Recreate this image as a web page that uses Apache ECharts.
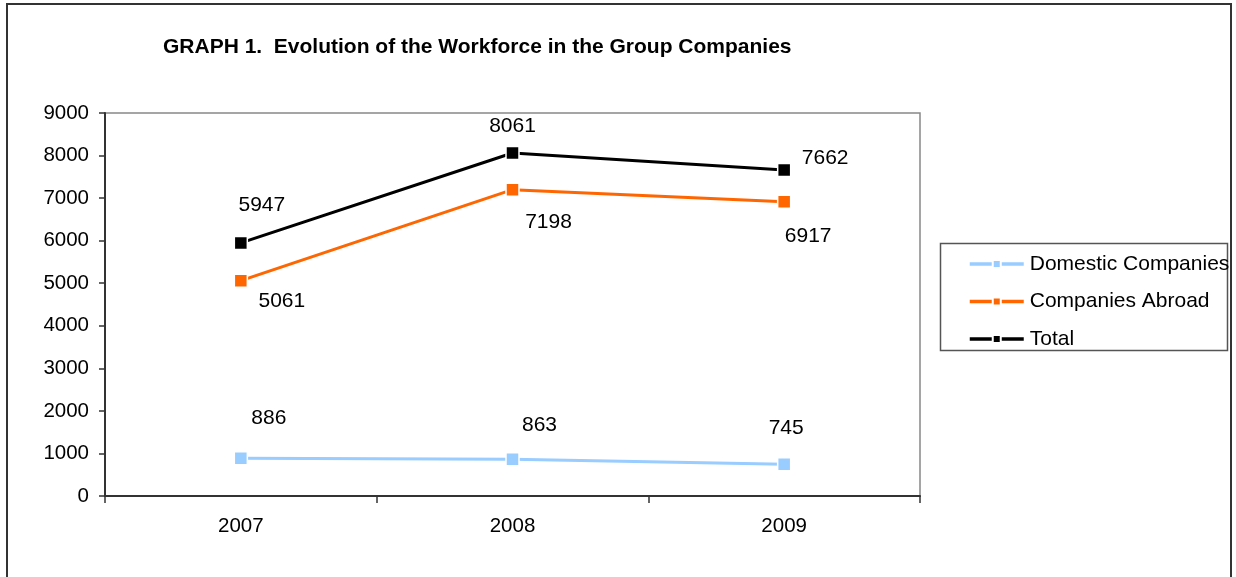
<!DOCTYPE html>
<html>
<head>
<meta charset="utf-8">
<script src="https://cdn.jsdelivr.net/npm/echarts@6/dist/echarts.min.js"></script>
<style>
  html, body { margin: 0; padding: 0; background: #fff; }
  #chart { width: 1236px; height: 577px; }
</style>
</head>
<body>
<div id="chart"></div>
<script>
// Workforce by year
const years = ['2007', '2008', '2009'];
const domestic = [886, 863, 745];
const abroad = [5061, 7198, 6917];
const total = [5947, 8061, 7662];
const seriesNames = ['Domestic Companies', 'Companies Abroad', 'Total'];

// Value-label placement relative to each point (label centre, px)
const labelOffsets = {
  domestic: [[28, -40], [27, -34], [2, -36]],
  abroad: [[41, 21], [36, 33], [24, 35]],
  total: [[21, -38], [0, -27], [41, -12]]
};

const FONT = 'Liberation Sans, Arial, sans-serif';

function withLabels(values, offsets) {
  return values.map((v, i) => ({
    value: v,
    label: { offset: offsets[i] }
  }));
}

function lineSeries(name, values, offsets, color) {
  return {
    name: name,
    type: 'line',
    data: withLabels(values, offsets),
    symbol: 'rect',
    symbolSize: 13,
    showAllSymbol: true,
    lineStyle: { color: color, width: 3 },
    itemStyle: { color: color, borderColor: '#fff', borderWidth: 1.5 },
    label: {
      show: true,
      position: 'inside',
      color: '#000',
      fontFamily: FONT,
      fontSize: 21
    },
    emphasis: { disabled: true },
    animation: false,
    z: 3
  };
}

const chart = echarts.init(document.getElementById('chart'), null, { renderer: 'canvas' });

chart.setOption({
  backgroundColor: '#fff',
  animation: false,
  title: {
    text: 'GRAPH 1.  Evolution of the Workforce in the Group Companies',
    left: 163,
    top: 37,
    padding: 0,
    textStyle: { fontFamily: FONT, fontSize: 21, fontWeight: 'bold', color: '#000' }
  },
  graphic: [
    {
      type: 'rect',
      shape: { x: 7, y: 4, width: 1224, height: 620 },
      style: { fill: 'none', stroke: '#333', lineWidth: 2 },
      silent: true, z: 0
    },
    {
      type: 'rect',
      shape: { x: 940.5, y: 243.5, width: 287, height: 107 },
      style: { fill: 'none', stroke: '#555', lineWidth: 1.5 },
      silent: true, z: 0
    }
  ],
  legend: {
    data: seriesNames,
    orient: 'vertical',
    left: 968,
    top: 253,
    itemWidth: 54,
    itemHeight: 10,
    itemGap: 15.5,
    padding: 0,
    selectedMode: false,
    lineStyle: { width: 3.5 },
    textStyle: { fontFamily: FONT, fontSize: 21, color: '#000', lineHeight: 22, padding: [0, 0, 0, 1] }
  },
  grid: {
    left: 105,
    right: 316,
    top: 113,
    bottom: 81,
    show: true,
    borderColor: '#888',
    borderWidth: 1.5,
    backgroundColor: '#fff'
  },
  xAxis: {
    type: 'category',
    data: years,
    boundaryGap: true,
    axisLine: { lineStyle: { color: '#333', width: 2 } },
    axisTick: { show: true, inside: false, length: 7, interval: 0, lineStyle: { color: '#333', width: 1.5 } },
    axisLabel: { color: '#000', fontFamily: FONT, fontSize: 20.5, margin: 20 },
    splitLine: { show: false }
  },
  yAxis: {
    type: 'value',
    min: 0,
    max: 9000,
    interval: 1000,
    axisLine: { show: true, lineStyle: { color: '#333', width: 2 } },
    axisTick: { show: true, inside: false, length: 6, lineStyle: { color: '#333', width: 1.5 } },
    axisLabel: {
      color: '#000', fontFamily: FONT, fontSize: 20.5, margin: 16,
      formatter: (v) => String(v)
    },
    splitLine: { show: false }
  },
  series: [
    lineSeries(seriesNames[0], domestic, labelOffsets.domestic, '#99CCFF'),
    lineSeries(seriesNames[1], abroad, labelOffsets.abroad, '#FF6600'),
    lineSeries(seriesNames[2], total, labelOffsets.total, '#000000')
  ]
});
</script>
</body>
</html>
